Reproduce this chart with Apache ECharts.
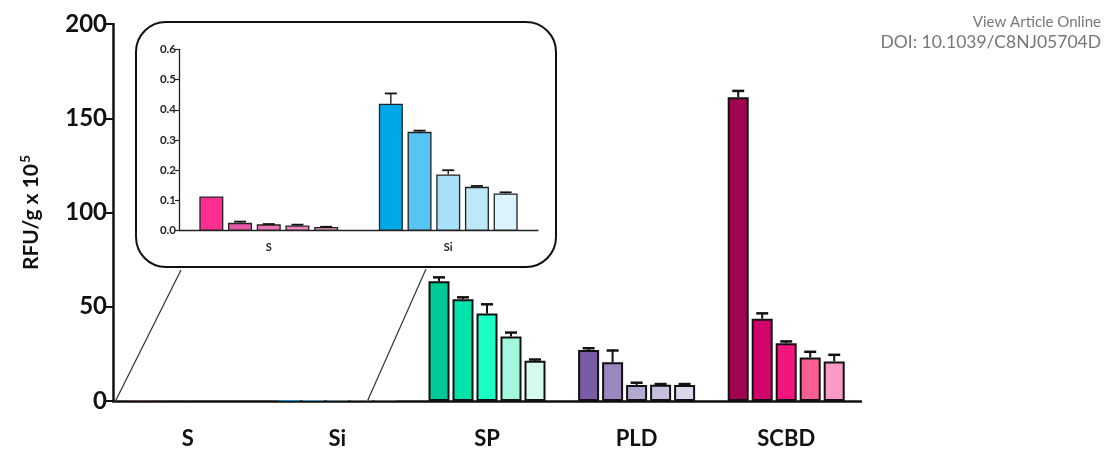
<!DOCTYPE html>
<html>
<head>
<meta charset="utf-8">
<script src="https://cdn.jsdelivr.net/npm/echarts@6/dist/echarts.min.js"></script>
<style>
html,body{margin:0;padding:0;background:#fff;}
#chart{width:1114px;height:450px;}
</style>
</head>
<body>
<div id="chart"></div>
<script>
// ---- data ----
const categories = ['S', 'Si', 'SP', 'PLD', 'SCBD'];
const insetCategories = ['S', 'Si'];
const mainTicks = [0, 50, 100, 150, 200];
const insetTicks = [0.0, 0.1, 0.2, 0.3, 0.4, 0.5, 0.6];

// five bars per category (means) and their error (SD) values
const valS    = [0.113, 0.026, 0.021, 0.017, 0.012];
const valSi   = [0.420, 0.327, 0.186, 0.145, 0.123];
const valSP   = [63.5, 54.0, 46.4, 34.2, 21.3];
const valPLD  = [27.0, 20.5, 8.5, 8.6, 8.5];
const valSCBD = [161.2, 43.7, 30.7, 23.1, 21.0];

const errS    = [0.000, 0.004, 0.001, 0.003, 0.001];
const errSi   = [0.034, 0.004, 0.014, 0.003, 0.004];
const errSP   = [2.1, 1.0, 4.9, 2.1, 0.7];
const errPLD  = [1.0, 6.3, 1.2, 0.4, 0.5];
const errSCBD = [3.3, 2.8, 0.9, 3.0, 3.5];

const colS    = ['#FF2F92', '#E659A5', '#EC74B4', '#EE86BD', '#F3A5CB'];
const colSi   = ['#00A8E8', '#56C5F3', '#A7E0F8', '#BDE8FA', '#DCF2FC'];
const colSP   = ['#00C896', '#00E3A8', '#1AFFC4', '#A4F7DF', '#D5FBEF'];
const colPLD  = ['#7A5CA4', '#9A87BE', '#B4A9D1', '#C7BFDD', '#DBD7EA'];
const colSCBD = ['#A10550', '#D2056A', '#F2157E', '#F8608F', '#F89CC5'];

const allVals = [valS, valSi, valSP, valPLD, valSCBD];
const allErrs = [errS, errSi, errSP, errPLD, errSCBD];
const allCols = [colS, colSi, colSP, colPLD, colSCBD];

// ---- style constants ----
const FONT = 'Lato';
const MAIN_BW = 21, MAIN_GAP = 3;
const INS_BW = 24, INS_GAP = 4.7;

function errRender(offsetPitch, capHalf, lw, minPx) {
  return function (params, api) {
    const v = api.value(1), e = api.value(2), idx = api.value(3);
    if (!(e > 0)) return null;
    const b = api.coord([api.value(0), v]);
    const t = api.coord([api.value(0), v + e]);
    if (Math.abs(b[1] - t[1]) < minPx && Math.abs(api.coord([api.value(0), 0])[1] - b[1]) < 2) return null;
    const x = b[0] + (idx - 2) * offsetPitch;
    return {
      type: 'group',
      children: [
        { type: 'line', shape: { x1: x, y1: b[1], x2: x, y2: t[1] }, style: { stroke: '#111', lineWidth: lw } },
        { type: 'line', shape: { x1: x - capHalf, y1: t[1], x2: x + capHalf, y2: t[1] }, style: { stroke: '#111', lineWidth: lw + 0.5 } }
      ]
    };
  };
}

const series = [];
// main bars (the S and Si bars are sub-pixel at this scale; drawn without outline)
for (let i = 0; i < 5; i++) {
  series.push({
    type: 'bar', xAxisIndex: 0, yAxisIndex: 0,
    barWidth: MAIN_BW, barGap: (MAIN_GAP / MAIN_BW * 100) + '%',
    z: 3,
    data: categories.map((c, k) => ({
      value: allVals[k][i],
      itemStyle: { color: allCols[k][i], borderColor: '#111', borderWidth: allVals[k][i] < 1 ? 0 : 2 }
    }))
  });
}
// main error bars
const mainErr = [];
for (let k = 0; k < categories.length; k++)
  for (let i = 0; i < 5; i++) mainErr.push([k, allVals[k][i], allErrs[k][i], i]);
series.push({
  type: 'custom', xAxisIndex: 0, yAxisIndex: 0, z: 4,
  renderItem: errRender(MAIN_BW + MAIN_GAP, 6, 2, 0.5),
  data: mainErr
});
// inset bars
for (let i = 0; i < 5; i++) {
  series.push({
    type: 'bar', xAxisIndex: 1, yAxisIndex: 1,
    barWidth: INS_BW, barGap: (INS_GAP / INS_BW * 100) + '%',
    z: 3,
    data: insetCategories.map((c, k) => ({
      value: allVals[k][i],
      itemStyle: { color: allCols[k][i], borderColor: '#222', borderWidth: 1.3 }
    }))
  });
}
const insErr = [];
for (let k = 0; k < insetCategories.length; k++)
  for (let i = 0; i < 5; i++) insErr.push([k, allVals[k][i], allErrs[k][i], i]);
series.push({
  type: 'custom', xAxisIndex: 1, yAxisIndex: 1, z: 4,
  renderItem: errRender(INS_BW + INS_GAP, 6, 1.3, 0),
  data: insErr
});

const chart = echarts.init(document.getElementById('chart'), null, { renderer: 'canvas' });
chart.setOption({
  animation: false,
  backgroundColor: '#fff',
  grid: [
    { left: 113, top: 24, width: 748, height: 378, containLabel: false },
    { left: 179, top: 49.3, width: 359, height: 181.4, containLabel: false }
  ],
  xAxis: [
    {
      type: 'category', gridIndex: 0, data: categories,
      axisLine: { lineStyle: { color: '#111', width: 2.5 } },
      axisTick: { alignWithLabel: true, length: 8, lineStyle: { color: '#111', width: 2 } },
      axisLabel: { margin: 27, fontSize: 22, fontWeight: 'bold', fontFamily: FONT, color: '#111' }
    },
    {
      type: 'category', gridIndex: 1, data: insetCategories,
      axisLine: { lineStyle: { color: '#222', width: 1.3 } },
      axisTick: { alignWithLabel: true, length: 5, lineStyle: { color: '#222', width: 1.2 } },
      axisLabel: { margin: 11, fontSize: 11, fontWeight: 'bold', fontFamily: FONT, color: '#222' }
    }
  ],
  yAxis: [
    {
      type: 'value', gridIndex: 0, min: mainTicks[0], max: mainTicks[mainTicks.length - 1], interval: 50,
      splitLine: { show: false },
      axisLine: { show: true, lineStyle: { color: '#111', width: 2.5 } },
      axisTick: { show: true, length: 7, lineStyle: { color: '#111', width: 2 } },
      axisLabel: { margin: 6, fontSize: 24, fontWeight: 'bold', fontFamily: FONT, color: '#111' },
      name: 'RFU/g x 10{sup|5}', nameLocation: 'middle', nameRotate: 90, nameGap: 69,
      nameTextStyle: {
        fontSize: 21, fontWeight: 'bold', fontFamily: FONT, color: '#111', lineHeight: 26,
        rich: { sup: { fontSize: 14, fontWeight: 'bold', fontFamily: FONT, color: '#111', verticalAlign: 'top', lineHeight: 26, padding: [0, 0, 10, 1] } }
      }
    },
    {
      type: 'value', gridIndex: 1, min: insetTicks[0], max: insetTicks[insetTicks.length - 1], interval: 0.1,
      splitLine: { show: false },
      axisLine: { show: true, lineStyle: { color: '#222', width: 1.3 } },
      axisTick: { show: true, length: 4, lineStyle: { color: '#222', width: 1.2 } },
      axisLabel: { margin: 3, fontSize: 11.5, fontWeight: 'bold', fontFamily: FONT, color: '#222', formatter: v => v.toFixed(1) }
    }
  ],
  graphic: [
    { type: 'rect', z: 1, shape: { x: 136, y: 22, width: 420, height: 245, r: 30 }, style: { fill: 'none', stroke: '#111', lineWidth: 2 } },
    { type: 'line', z: 1, shape: { x1: 115, y1: 402, x2: 181, y2: 270 }, style: { stroke: '#333', lineWidth: 1.2 } },
    { type: 'line', z: 1, shape: { x1: 367, y1: 402, x2: 426, y2: 269 }, style: { stroke: '#333', lineWidth: 1.2 } },
    { type: 'text', z: 5, x: 1101, y: 22, style: { text: 'View Article Online', textAlign: 'right', textVerticalAlign: 'middle', fontSize: 15, fontFamily: FONT, fill: '#777' } },
    { type: 'text', z: 5, x: 1101, y: 42, style: { text: 'DOI: 10.1039/C8NJ05704D', textAlign: 'right', textVerticalAlign: 'middle', fontSize: 17.5, fontFamily: FONT, fill: '#777' } }
  ],
  series: series
});
</script>
</body>
</html>
